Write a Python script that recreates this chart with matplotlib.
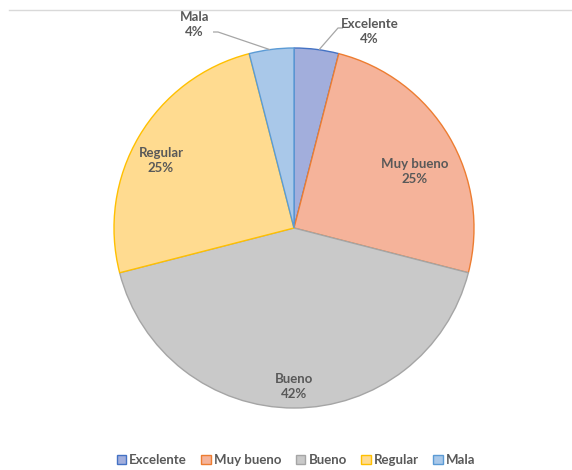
import matplotlib
matplotlib.use("Agg")
import matplotlib.pyplot as plt
from matplotlib.lines import Line2D
import numpy as np

# data
categories = ["Excelente", "Muy bueno", "Bueno", "Regular", "Mala"]
values = [4, 25, 42, 25, 4]

# style
fills = ["#A2AEDC", "#F5B39A", "#C9C9C9", "#FFDB90", "#A9C8E9"]
edges = ["#4472C4", "#ED7D31", "#A5A5A5", "#FFC000", "#5B9BD5"]
text_gray = "#595959"
font = ["Lato", "DejaVu Sans"]
# label placement: (angle in degrees, radius as fraction of pie radius)
label_pos = [(69, 1.17), (25, 0.74), (-90, 0.88), (153, 0.83), (116, 1.26)]

W, H = 572, 470
fig = plt.figure(figsize=(W / 100, H / 100), dpi=100)
ax = fig.add_axes([0, 0, 1, 1])

cx, cy, R = 294, H - 228, 180

wedges, _ = ax.pie(values, colors=fills, startangle=90, counterclock=False,
                   center=(cx, cy), radius=R, frame=True,
                   wedgeprops=dict(linewidth=1.0))
for w, ec in zip(wedges, edges):
    w.set_edgecolor(ec)
ax.set_xlim(0, W)
ax.set_ylim(0, H)
ax.axis("off")

total = sum(values)
for cat, v, (ang, rf) in zip(categories, values, label_pos):
    a = np.deg2rad(ang)
    x = cx + rf * R * np.cos(a)
    y = cy + rf * R * np.sin(a)
    ax.text(x, y, f"{cat}\n{round(100 * v / total)}%", ha="center", va="center",
            fontsize=9.5, fontweight="bold", color=text_gray, family=font,
            linespacing=1.3)

# leader lines for the small outside labels
def leader(edge_ang, p_mid, p_end):
    a = np.deg2rad(edge_ang)
    x0, y0 = cx + R * np.cos(a), cy + R * np.sin(a)
    ax.plot([x0, p_mid[0], p_end[0]], [y0, p_mid[1], p_end[1]],
            color="#A6A6A6", lw=0.9, solid_capstyle="butt")

leader(82, (338, H - 28), (343, H - 28))
leader(97.7, (218, H - 32), (213, H - 32))

# top border line
fig.add_artist(Line2D([9 / W, 1], [1 - 9.5 / H, 1 - 9.5 / H],
                      color="#D9D9D9", lw=1.0, transform=fig.transFigure))

handles = [plt.Rectangle((0, 0), 1, 1, facecolor=f, edgecolor=e, lw=1.0)
           for f, e in zip(fills, edges)]
leg = fig.legend(handles, categories, loc="center", bbox_to_anchor=(296 / W, 1 - 460 / H),
                 ncol=5, frameon=False, handlelength=0.7, handleheight=0.7,
                 handletextpad=0.25, columnspacing=1.1,
                 prop=dict(family=font, weight="bold", size=9.5))
for t in leg.get_texts():
    t.set_color(text_gray)

fig.savefig("out.png", dpi=100, facecolor="white")
